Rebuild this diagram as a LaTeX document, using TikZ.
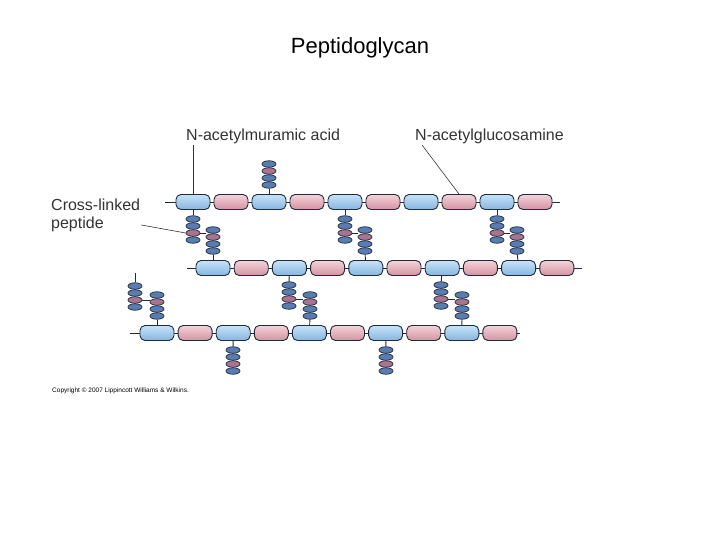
\documentclass[tikz,border=0pt]{standalone}
\usepackage{fontspec}
\setmainfont{Liberation Sans}
\usetikzlibrary{shapes.geometric}
\definecolor{edge}{HTML}{1F2A3F}
\definecolor{namlight}{HTML}{C8E2F6}
\definecolor{namdark}{HTML}{86B6E0}
\definecolor{naglight}{HTML}{F3D3D9}
\definecolor{nagdark}{HTML}{D492A0}
\definecolor{beadblue}{HTML}{5A7DB0}
\definecolor{beadpink}{HTML}{A8748F}
\definecolor{lbl}{HTML}{333333}

% one peptide stack: name, x, y of chain, direction (1 down, -1 up)
\newcommand\pepstack[4]{%
  \foreach \k/\c in {1/beadblue,2/beadblue,3/beadpink,4/beadblue}
    \node[bead,fill=\c] (#1\k) at (#2,#3+#4*10+#4*7*\k) {};
}

\begin{document}
\begin{tikzpicture}[x=1pt,y=-1pt,
    sugar/.style={draw=edge,rounded corners=5pt,minimum width=34pt,minimum height=15pt,inner sep=0pt,line width=0.9pt},
    nam/.style={sugar,top color=namlight,bottom color=namdark},
    nag/.style={sugar,top color=naglight,bottom color=nagdark},
    bead/.style={ellipse,draw=edge,minimum width=14pt,minimum height=6.5pt,inner sep=0pt,line width=0.7pt},
    link/.style={draw=edge,line width=0.9pt},
    tag/.style={font=\fontsize{16}{18}\selectfont,text=lbl,inner sep=1pt}]
  \useasboundingbox (0,0) rectangle (720,540);

  \node[font=\fontsize{22}{26}\selectfont] (title) at (360,48) {Peptidoglycan};

  % glycan chains
  \draw[link] (165,202) -- (560,202);
  \draw[link] (187,268) -- (582,268);
  \draw[link] (130,333) -- (520,333);
  \foreach \i in {1,...,10}{
    \pgfmathsetmacro\xa{193+38*(\i-1)}
    \pgfmathsetmacro\xb{213+38.2*(\i-1)}
    \pgfmathsetmacro\xc{157+38.1*(\i-1)}
    \ifodd\i
      \node[nam] (ra\i) at (\xa,202) {};
      \node[nam] (rb\i) at (\xb,268) {};
      \node[nam] (rc\i) at (\xc,333) {};
    \else
      \node[nag] (ra\i) at (\xa,202) {};
      \node[nag] (rb\i) at (\xb,268) {};
      \node[nag] (rc\i) at (\xc,333) {};
    \fi
  }

  % side chains and cross-links
  \pepstack{pu}{269}{202}{-1}
  \draw[link] (ra3) -- (pu1);
  \foreach \t/\ta/\bb/\xs/\xt/\ys/\yt in {a/ra1/rb1/193/213/202/268,
      b/ra5/rb5/345/365/202/268, c/ra9/rb9/497/517/202/268,
      d/rb3/rc5/289/310/268/333, e/rb7/rc9/441/462/268/333}{
    \pepstack{s\t}{\xs}{\ys}{1}
    \pepstack{t\t}{\xt}{\yt}{-1}
    \draw[link] (\ta) -- (s\t1);
    \draw[link] (\bb) -- (t\t1);
    \draw[link] (s\t3.east) -- (s\t3.east -| t\t4.west);
  }
  \coordinate (free) at (135,273);
  \pepstack{sf}{135}{269}{1}
  \pepstack{tf}{157}{333}{-1}
  \draw[link] (free) -- (sf1);
  \draw[link] (rc1) -- (tf1);
  \draw[link] (sf3.east) -- (sf3.east -| tf4.west);
  \pepstack{dg}{233}{333}{1}
  \pepstack{dh}{386}{333}{1}
  \draw[link] (rc3) -- (dg1);
  \draw[link] (rc7) -- (dh1);

  % labels
  \node[tag,anchor=south west] (mur) at (185,145) {N-acetylmuramic acid};
  \node[tag,anchor=south west] (glc) at (414,145) {N-acetylglucosamine};
  \node[tag,anchor=west,align=left] (cross) at (50,215) {Cross-linked\\peptide};
  \draw[lbl,line width=0.6pt] (mur.south west -| ra1) -- (ra1);
  \draw[lbl,line width=0.6pt] (glc.south west) ++(8,0) -- (ra8.north);
  \draw[lbl,line width=0.6pt] (cross.east |- 0,225) -- (sa3.west);

  \node[anchor=west,font=\fontsize{6.5}{7}\selectfont,inner sep=0pt] (copy) at (52,391) {Copyright \copyright\ 2007 Lippincott Williams \& Wilkins.};
\end{tikzpicture}
\end{document}
